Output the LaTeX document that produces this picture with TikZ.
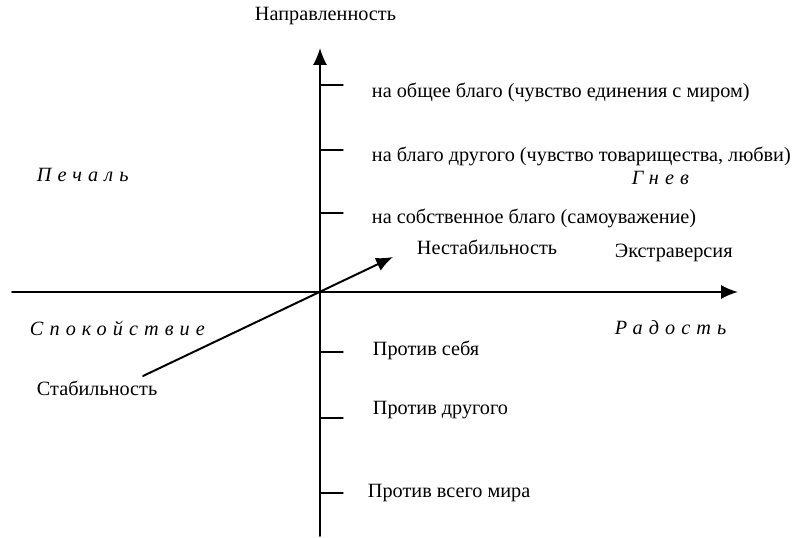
\documentclass[tikz,border=0pt]{standalone}
\usepackage{fontspec}
\setmainfont{Liberation Serif}
\newfontfamily\spacedit[LetterSpace=30]{Liberation Serif}
\usetikzlibrary{arrows.meta}

\begin{document}
\begin{tikzpicture}[
  x=0.025cm, y=-0.025cm,
  >={Latex[length=12pt,width=10pt]},
  line cap=round,
  every node/.style={font=\fontsize{14.4}{17}\selectfont, inner sep=0.5pt},
  emo/.style={font=\fontsize{14.4}{17}\selectfont\spacedit\itshape},
  axis/.style={line width=1.4pt}
]
  \useasboundingbox (0,0) rectangle (803,538);

  \coordinate (O) at (320,292);
  \coordinate (xl) at (12,292);
  \coordinate (xr) at (738,292);
  \coordinate (yb) at (320,536);
  \coordinate (yt) at (320,48);
  \coordinate (st) at (143,376);
  \coordinate (ns) at (393,257);

  % Axes
  \draw[axis,->] (xl) -- (xr);
  \draw[axis,->] (yb) -- (yt);

  % Stability -- instability axis
  \draw[axis,->] (st) -- (ns);

  % Ticks on the vertical axis
  \foreach \ty in {85,150,213,352,418,493}
    \draw[line width=1pt] (320,\ty) -- (343,\ty);

  % Axis titles
  \node[anchor=west] (napr) at (254,16) {Направленность};
  \node[anchor=west] (ekstr) at (614,253) {Экстраверсия};
  \node[anchor=west] (nestab) at (416,247) {Нестабильность};
  \node[anchor=west] (stab) at (36,388) {Стабильность};

  % Directions above
  \node[anchor=west] (obshch) at (371,92) {на общее благо (чувство единения с миром)};
  \node[anchor=west] (drug) at (371,156) {на благо другого (чувство товарищества, любви)};
  \node[anchor=west] (sobstv) at (371,218) {на собственное благо (самоуважение)};

  % Directions below
  \node[anchor=west] (prsebya) at (372,350) {Против себя};
  \node[anchor=west] (prdrug) at (372,410) {Против другого};
  \node[anchor=west] (prmir) at (367,493) {Против всего мира};

  % Emotions in the quadrants
  \node[emo, anchor=west] (pechal) at (36,175) {Печаль};
  \node[emo, anchor=west] (gnev) at (631,178) {Гнев};
  \node[emo, anchor=west] (spok) at (29,328) {Спокойствие};
  \node[emo, anchor=west] (radost) at (614,328) {Радость};
\end{tikzpicture}
\end{document}
